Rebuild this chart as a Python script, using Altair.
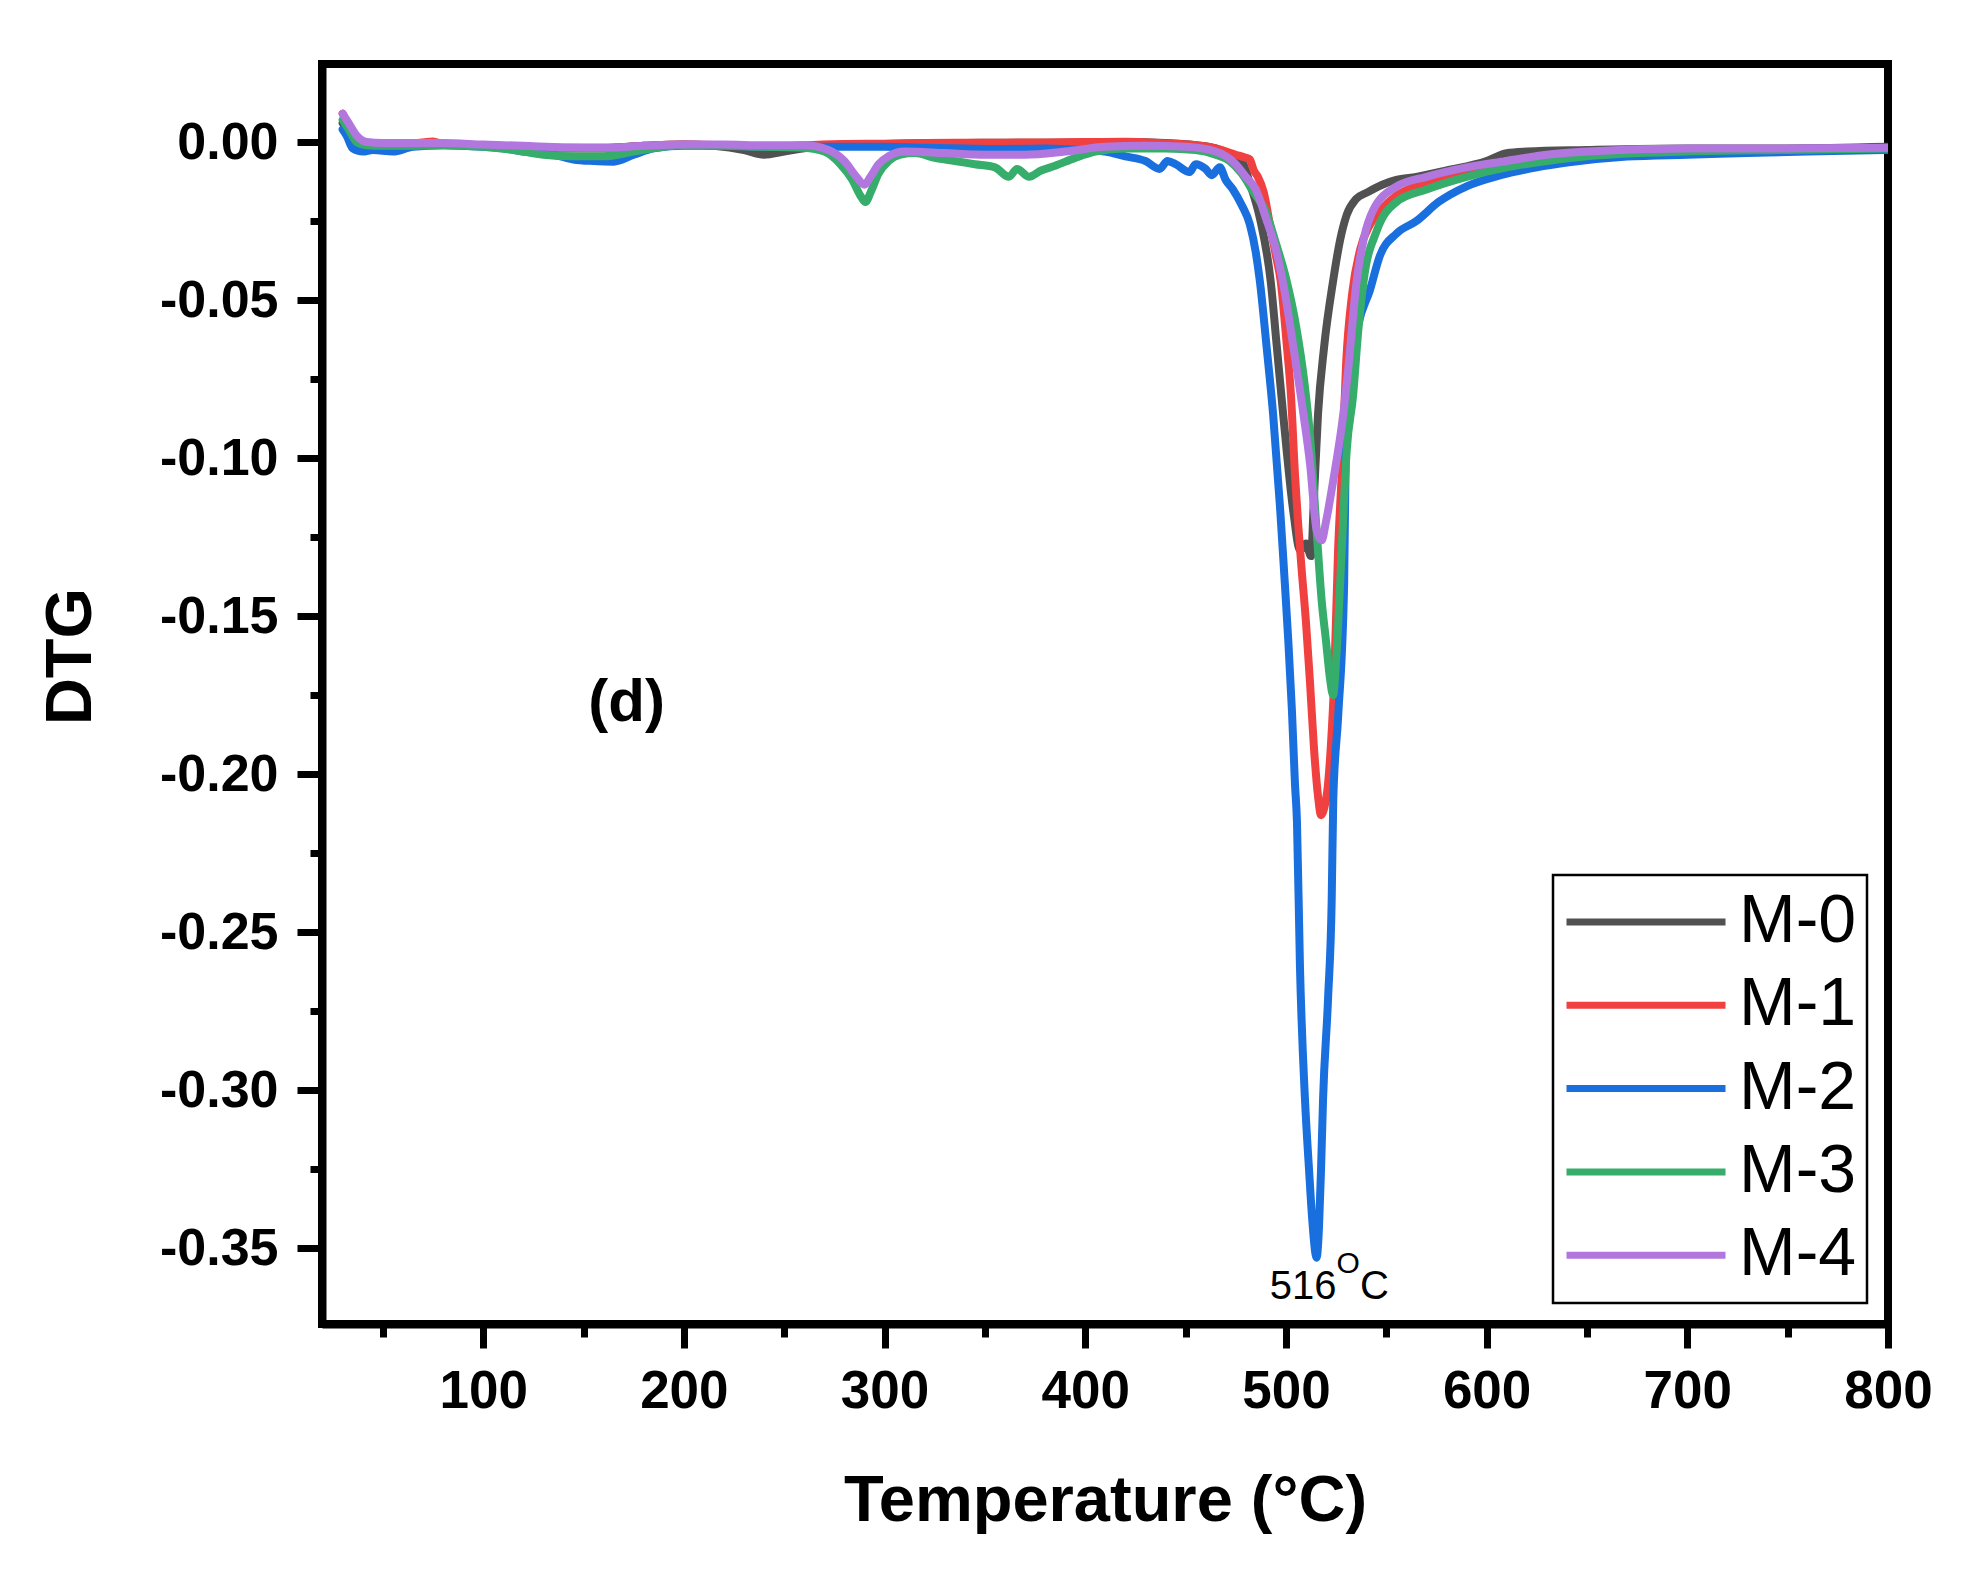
import altair as alt
import pandas as pd

FONT = "Liberation Sans"

series_names = ["M-0", "M-1", "M-2", "M-3", "M-4"]
series_colors = ["#515151", "#F14040", "#1A6FDF", "#37AD6B", "#B177DE"]

# ---- M-0 (grey) ----
T_M0 = [30, 33, 37, 42, 50, 60, 80, 100, 120, 140, 160, 180, 200, 215, 230, 240, 250, 265, 280,
        300, 320, 340, 360, 380, 400, 420, 440, 455, 465, 472, 478, 482, 487, 492.4, 495.5, 498.6,
        503.7, 507, 510, 512.5, 514, 516, 519, 523.5, 527, 530.3, 535, 540.3, 548, 555, 565, 580,
        600, 610, 620, 650, 700, 750, 800]
D_M0 = [0.006, 0.004, 0.001, -0.0005, -0.001, -0.001, -0.0008, -0.001, -0.0015, -0.0018, -0.0018,
        -0.0012, -0.0008, -0.0012, -0.0025, -0.004, -0.003, -0.0015, -0.0008,
        -0.0006, -0.0004, -0.0003, -0.0002, -0.0002, -0.0001, 0.0, -0.0003, -0.001, -0.002, -0.004,
        -0.006, -0.013, -0.024, -0.044, -0.065, -0.086,
        -0.117, -0.129, -0.127, -0.131, -0.112, -0.086, -0.065, -0.044, -0.031, -0.023, -0.018,
        -0.016, -0.0135, -0.012, -0.011, -0.009,
        -0.006, -0.0035, -0.003, -0.0025, -0.002, -0.002, -0.0015]

# ---- M-1 (red) ----
T_M1 = [30, 33, 37, 42, 50, 60, 75, 80, 100, 120, 140, 160, 180, 200, 220, 240, 260, 280, 300,
        320, 340, 360, 380, 400, 420, 440, 455, 465, 475, 480, 482, 484, 486, 489, 492, 495, 497.4,
        500.4, 502.5, 504.5, 506, 507.8, 510, 512, 514, 516, 517.5, 519, 521, 522.5, 524, 526,
        527.8, 530, 533, 537, 542, 548, 555, 565, 580, 600, 620, 650, 700, 750, 800]
D_M1 = [0.009, 0.005, 0.001, -0.0005, -0.0008, -0.0008, 0.0002, -0.0006, -0.001, -0.0015, -0.002,
        -0.002, -0.0012, -0.0008, -0.001, -0.0015, -0.001, -0.0006, -0.0005,
        -0.0003, -0.0002, -0.0002, -0.0001, 0.0, 0.0001, -0.0004, -0.001, -0.002, -0.004, -0.005,
        -0.0055, -0.009, -0.011, -0.016, -0.026, -0.036, -0.044,
        -0.064, -0.080, -0.105, -0.120, -0.135, -0.152, -0.171, -0.192, -0.207, -0.213, -0.211,
        -0.203, -0.190, -0.171, -0.129,
        -0.105, -0.070, -0.048, -0.034, -0.026, -0.021, -0.017, -0.014, -0.011, -0.008, -0.0055,
        -0.004, -0.003, -0.0025, -0.002]

# ---- M-2 (blue) ----
T_M2 = [30, 32, 35, 40, 45, 55, 65, 80, 100, 110, 120, 135, 145, 155, 165, 175, 185, 200, 220,
        240, 260, 280, 300, 320, 340, 360, 380, 400, 410, 420, 430, 437, 441, 445, 452, 455, 460,
        463, 467, 470, 473.6,
        478, 482, 485, 487, 490.4, 493.6, 497, 499, 501.2, 503, 504.5, 505.5, 507, 509.5, 511.5,
        513, 515.3, 516.5, 517.5, 518.5, 521, 522.8, 523.6, 526, 529, 530, 533, 536, 541.8, 546.8,
        555, 565, 576, 590, 607, 625, 640, 670, 700, 730, 760, 800]
D_M2 = [0.004, 0.002, -0.002, -0.003, -0.0025, -0.003, -0.0015, -0.001, -0.0015, -0.002, -0.003,
        -0.004, -0.0055, -0.006, -0.0062, -0.004, -0.002, -0.0012, -0.0012,
        -0.0015, -0.0015, -0.0015, -0.0015, -0.0018, -0.002, -0.0022, -0.002, -0.0025, -0.003,
        -0.0045, -0.006, -0.0085, -0.006, -0.007, -0.0095, -0.007, -0.0085,
        -0.0105, -0.008, -0.012, -0.015,
        -0.020, -0.026, -0.035, -0.044, -0.065, -0.086, -0.115, -0.135, -0.158, -0.180, -0.203,
        -0.215, -0.261, -0.303, -0.325,
        -0.340, -0.353, -0.343, -0.325, -0.303, -0.271, -0.240, -0.208, -0.182, -0.140, -0.090,
        -0.070, -0.058, -0.047, -0.036,
        -0.029, -0.025, -0.019, -0.014, -0.0105, -0.008, -0.0065, -0.0046, -0.004, -0.0035,
        -0.003, -0.0025]

# ---- M-3 (green) ----
T_M3 = [30, 33, 37, 42, 50, 60, 80, 100, 115, 130, 145, 160, 175, 190, 200, 220, 240, 260, 270,
        278, 284, 288, 290.5, 293, 297, 302, 308, 315, 325, 335, 345, 355, 362, 366, 372, 378, 385,
        395, 405, 420, 440, 455, 465, 472, 478, 484, 490, 495, 500, 505, 509, 512, 515.3, 517.8,
        520, 522, 523.5, 525.2, 527.8, 530.3, 533.5, 536, 538.7, 545.3, 555, 570, 590, 610, 630,
        650, 700, 750, 800]
D_M3 = [0.007, 0.004, 0.0, -0.001, -0.0012, -0.0012, -0.001, -0.0015, -0.0025, -0.004, -0.0045,
        -0.0045, -0.003, -0.0015, -0.001, -0.0012, -0.0015, -0.0018, -0.003,
        -0.007, -0.012, -0.017, -0.019, -0.016, -0.010, -0.006, -0.004, -0.0035, -0.005, -0.006,
        -0.007, -0.008, -0.011, -0.0085, -0.011, -0.009, -0.0075,
        -0.005, -0.003, -0.002, -0.002, -0.0025, -0.004, -0.006, -0.010, -0.016, -0.022, -0.032,
        -0.043, -0.058, -0.075, -0.093, -0.123, -0.145,
        -0.158, -0.170, -0.175, -0.162, -0.129, -0.0975, -0.080, -0.060, -0.044, -0.028, -0.019,
        -0.015, -0.011, -0.008, -0.006,
        -0.0045, -0.003, -0.0025, -0.002]

# ---- M-4 (purple) ----
T_M4 = [30, 33, 37, 42, 50, 60, 80, 100, 120, 140, 160, 180, 200, 220, 240, 260, 272, 280, 286,
        290, 293, 297, 302, 310, 330, 350, 370, 390, 410, 430, 450, 465, 475, 480, 485, 490, 495,
        499, 503.7, 508.7, 512, 515.3, 517.8, 520, 523.6, 528.6, 531, 535.3, 539, 543.5, 555, 570,
        590, 610, 630, 650, 700, 750, 800]
D_M4 = [0.009, 0.006, 0.002, 0.0, -0.0003, -0.0003, -0.0003, -0.0008, -0.0012, -0.0017, -0.0018,
        -0.0012, -0.0008, -0.0008, -0.001, -0.001, -0.0025, -0.006, -0.011,
        -0.0135, -0.011, -0.007, -0.0045, -0.003, -0.0035, -0.004, -0.004, -0.003, -0.0015,
        -0.0012, -0.0015, -0.003, -0.007, -0.011, -0.015, -0.024, -0.034,
        -0.046, -0.0648, -0.086, -0.1017, -0.1228, -0.126, -0.120, -0.107, -0.086, -0.072,
        -0.0437, -0.030, -0.0215, -0.0141, -0.011,
        -0.008, -0.006, -0.004, -0.003, -0.002, -0.002, -0.0018]

x_major = [100, 200, 300, 400, 500, 600, 700, 800]
x_minor = [50, 150, 250, 350, 450, 550, 650, 750]
y_major = [0.0, -0.05, -0.10, -0.15, -0.20, -0.25, -0.30, -0.35]
y_minor = [-0.025, -0.075, -0.125, -0.175, -0.225, -0.275, -0.325]

panel_label = ["(d)"]
panel_T = [171.5]
panel_D = [-0.1831]

peak_T = [516]
peak_D = [-0.3660]
peak_parts = ["516", "O", "C"]

x_domain = [19.7, 800]
y_domain = [-0.374, 0.0247]

frames = []
for name, T, D in zip(series_names,
                      [T_M0, T_M1, T_M2, T_M3, T_M4],
                      [D_M0, D_M1, D_M2, D_M3, D_M4]):
    frames.append(pd.DataFrame({"T": T, "D": D, "series": name}))
df = pd.concat(frames, ignore_index=True)

xscale = alt.Scale(domain=x_domain, nice=False, zero=False)
yscale = alt.Scale(domain=y_domain, nice=False, zero=False)

lines = alt.Chart(df).mark_line(strokeWidth=8, interpolate="monotone", strokeJoin="round",
                                strokeCap="round", clip=True).encode(
    x=alt.X("T:Q", scale=xscale,
            axis=alt.Axis(values=x_major, format="d", orient="bottom", grid=False,
                          tickSize=24, tickWidth=7, tickColor="black",
                          domainColor="black", domainWidth=8,
                          labelFontSize=53, labelFont=FONT, labelFontWeight="bold",
                          labelColor="black", labelPadding=17, labelFlush=False,
                          labelOverlap=False,
                          title="Temperature (°C)", titleFont=FONT, titleFontSize=65,
                          titleFontWeight="bold", titleColor="black",
                          titleX=783, titleY=196, titleBaseline="alphabetic",
                          titleAlign="center")),
    y=alt.Y("D:Q", scale=yscale,
            axis=alt.Axis(values=y_major, orient="left", grid=False,
                          labelExpr="datum.value == 0 ? '0.00' : '-' + format(abs(datum.value), '.2f')",
                          tickSize=25, tickWidth=7, tickColor="black",
                          domainColor="black", domainWidth=8,
                          labelFontSize=52, labelFont=FONT, labelFontWeight="bold",
                          labelColor="black", labelPadding=19, labelOverlap=False,
                          title="DTG", titleFont=FONT, titleFontSize=65,
                          titleFontWeight="bold", titleColor="black", titleAngle=270,
                          titleX=-232, titleY=592, titleBaseline="alphabetic",
                          titleAlign="center")),
    color=alt.Color("series:N",
                    scale=alt.Scale(domain=series_names, range=series_colors),
                    legend=alt.Legend(orient="none", legendX=1231, legendY=811, title=None,
                                      symbolType="stroke", symbolSize=25281,
                                      symbolStrokeWidth=7, labelFontSize=68, labelFont=FONT,
                                      labelColor="black", clipHeight=74, rowPadding=9.3,
                                      labelOffset=10, padding=10, strokeColor="black",
                                      labelLimit=300)),
)

minor = alt.Chart(df).mark_point(opacity=0, size=1).encode(
    x=alt.X("T:Q", scale=xscale,
            axis=alt.Axis(values=x_minor, orient="bottom", labels=False, domain=False,
                          grid=False, tickSize=13, tickWidth=7, tickColor="black", title="")),
    y=alt.Y("D:Q", scale=yscale,
            axis=alt.Axis(values=y_minor, orient="left", labels=False, domain=False,
                          grid=False, tickSize=12, tickWidth=7, tickColor="black", title="")),
)

panel_df = pd.DataFrame({"T": panel_T, "D": panel_D, "label": panel_label})
panel = alt.Chart(panel_df).mark_text(font=FONT, fontSize=60, fontWeight="bold", color="black",
                                      align="center", baseline="alphabetic").encode(
    x=alt.X("T:Q", scale=xscale, axis=None),
    y=alt.Y("D:Q", scale=yscale, axis=None),
    text="label:N",
)

peak_df = pd.DataFrame({"T": peak_T, "D": peak_D})


def peak_text(txt, size, align, dx, dy):
    return alt.Chart(peak_df).mark_text(text=txt, font=FONT, fontSize=size, color="black",
                                        align=align, baseline="alphabetic", dx=dx, dy=dy).encode(
        x=alt.X("T:Q", scale=xscale, axis=None),
        y=alt.Y("D:Q", scale=yscale, axis=None),
    )


t1 = peak_text(peak_parts[0], 40, "right", 18.5, 0)
t2 = peak_text(peak_parts[1], 30, "left", 18.5, -26)
t3 = peak_text(peak_parts[2], 40, "left", 42, 0)

chart = alt.layer(lines, minor, panel, t1, t2, t3).resolve_axis(
    x="independent", y="independent"
).properties(
    width=1566, height=1260,
    autosize=alt.AutoSizeParams(type="none"),
    padding={"left": 314, "top": 56, "right": 60, "bottom": 220},
).configure_view(
    stroke="black", strokeWidth=8
).configure_legend(
    strokeWidth=2.5
)

chart.save("out.html", embed_options={"renderer": "svg", "actions": False})
